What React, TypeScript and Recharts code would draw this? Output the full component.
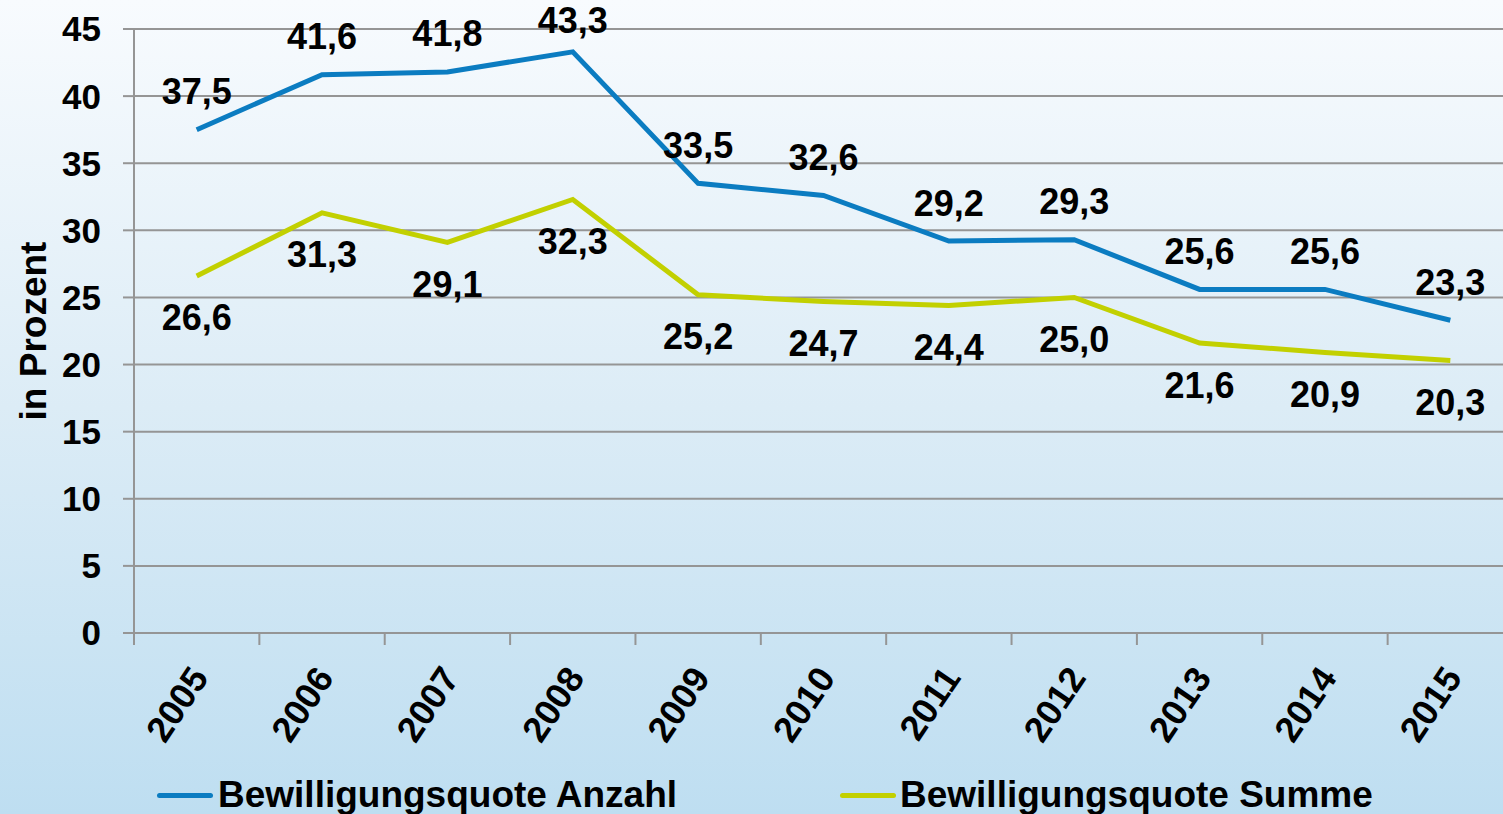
import React from 'react';
import { LineChart, Line, XAxis, YAxis, CartesianGrid, Legend, LabelList } from 'recharts';

const years = ['2005', '2006', '2007', '2008', '2009', '2010', '2011', '2012', '2013', '2014', '2015'];
const anzahl = [37.5, 41.6, 41.8, 43.3, 33.5, 32.6, 29.2, 29.3, 25.6, 25.6, 23.3];
const summe = [26.6, 31.3, 29.1, 32.3, 25.2, 24.7, 24.4, 25.0, 21.6, 20.9, 20.3];
const yTicks = [0, 5, 10, 15, 20, 25, 30, 35, 40, 45];
const seriesNames = ['Bewilligungsquote Anzahl', 'Bewilligungsquote Summe'];

const BLUE = '#0b7cc1';
const GREEN = '#c2d000';
const GRID = '#959595';
const FONT = '"Liberation Sans", Arial, Helvetica, sans-serif';

const data = years.map((y, i) => ({ idx: i, year: y, anzahl: anzahl[i], summe: summe[i] }));
const boundaryTicks = [...years.map((_, i) => i - 0.5), years.length - 0.5];
const labelTicks = years.map((_, i) => i);

const fmt = (v: number) => v.toFixed(1).replace('.', ',');

const makeLabel = (dy: number) => (props: any) => {
  const { x, y, value } = props;
  const ty = Math.max(y + dy, 20);
  return (
    <text
      x={x}
      y={ty}
      textAnchor="middle"
      dominantBaseline="central"
      fontFamily={FONT}
      fontWeight="bold"
      fontSize={36}
      fill="#000"
    >
      {fmt(value)}
    </text>
  );
};

const EmptyTick = () => <g />;

const YearTick = (props: any) => {
  const { x, y, payload } = props;
  const ax = x + 13;
  const ay = y + 44;
  return (
    <text
      x={ax}
      y={ay}
      textAnchor="end"
      transform={`rotate(-56, ${ax}, ${ay})`}
      fontFamily={FONT}
      fontWeight="bold"
      fontSize={36}
      fill="#000"
    >
      {years[payload.value]}
    </text>
  );
};

const YLabel = (props: any) => {
  const { viewBox } = props;
  const cx = viewBox.x + 33;
  const cy = viewBox.y + viewBox.height / 2;
  return (
    <text
      x={cx}
      y={cy}
      textAnchor="middle"
      dominantBaseline="central"
      transform={`rotate(-90, ${cx}, ${cy})`}
      fontFamily={FONT}
      fontWeight="bold"
      fontSize={37}
      fill="#000"
    >
      in Prozent
    </text>
  );
};

const LegendContent = () => {
  const items = [
    { name: seriesNames[0], color: BLUE, left: 157, textLeft: 218 },
    { name: seriesNames[1], color: GREEN, left: 840, textLeft: 900 },
  ];
  return (
    <div style={{ position: 'relative', width: 1503, height: 44 }}>
      {items.map((it) => (
        <React.Fragment key={it.name}>
          <div
            style={{
              position: 'absolute',
              left: it.left,
              top: 23,
              width: 56,
              height: 5,
              borderRadius: 3,
              background: it.color,
            }}
          />
          <span
            style={{
              position: 'absolute',
              left: it.textLeft,
              top: 3,
              height: 44,
              lineHeight: '44px',
              fontFamily: FONT,
              fontWeight: 'bold',
              fontSize: 37,
              color: '#000',
              whiteSpace: 'nowrap',
            }}
          >
            {it.name}
          </span>
        </React.Fragment>
      ))}
    </div>
  );
};

export default function App() {
  return (
    <div
      style={{
        position: 'absolute',
        left: 0,
        top: 0,
        width: 1503,
        height: 814,
        overflow: 'hidden',
        background: 'linear-gradient(to bottom, #f8fbfe 0%, #dcecf6 50%, #bedef1 100%)',
      }}
    >
      <LineChart width={1520} height={814} data={data} margin={{ top: 29, right: 7, left: 0, bottom: 0 }}>
        <CartesianGrid vertical={false} stroke={GRID} strokeWidth={2} xAxisId="b_labels" yAxisId="y" />
        <XAxis
          xAxisId="a_marks"
          dataKey="idx"
          type="number"
          domain={[-0.5, years.length - 0.5]}
          ticks={boundaryTicks}
          interval={0}
          tick={<EmptyTick />}
          tickSize={12}
          height={1}
          axisLine={{ stroke: GRID, strokeWidth: 2 }}
          tickLine={{ stroke: GRID, strokeWidth: 2 }}
        />
        <XAxis
          xAxisId="b_labels"
          dataKey="idx"
          type="number"
          domain={[-0.5, years.length - 0.5]}
          ticks={labelTicks}
          interval={0}
          tick={<YearTick />}
          tickSize={0}
          tickMargin={0}
          height={136}
          axisLine={false}
          tickLine={false}
        />
        <YAxis
          yAxisId="y"
          domain={[0, 45]}
          ticks={yTicks}
          interval={0}
          width={134}
          tickSize={11}
          tickMargin={22}
          axisLine={{ stroke: GRID, strokeWidth: 2 }}
          tickLine={{ stroke: GRID, strokeWidth: 2 }}
          tick={{ fill: '#000', fontFamily: FONT, fontWeight: 'bold', fontSize: 35 }}
          label={<YLabel />}
        />
        <Legend verticalAlign="bottom" height={44} content={<LegendContent />} wrapperStyle={{ left: 0, bottom: 0, width: 1503 }} />
        <Line
          xAxisId="b_labels"
          yAxisId="y"
          type="linear"
          dataKey="anzahl"
          name={seriesNames[0]}
          stroke={BLUE}
          strokeWidth={5}
          dot={false}
          activeDot={false}
          isAnimationActive={false}
        >
          <LabelList dataKey="anzahl" content={makeLabel(-38)} />
        </Line>
        <Line
          xAxisId="b_labels"
          yAxisId="y"
          type="linear"
          dataKey="summe"
          name={seriesNames[1]}
          stroke={GREEN}
          strokeWidth={5}
          dot={false}
          activeDot={false}
          isAnimationActive={false}
        >
          <LabelList dataKey="summe" content={makeLabel(42)} />
        </Line>
      </LineChart>
    </div>
  );
}
